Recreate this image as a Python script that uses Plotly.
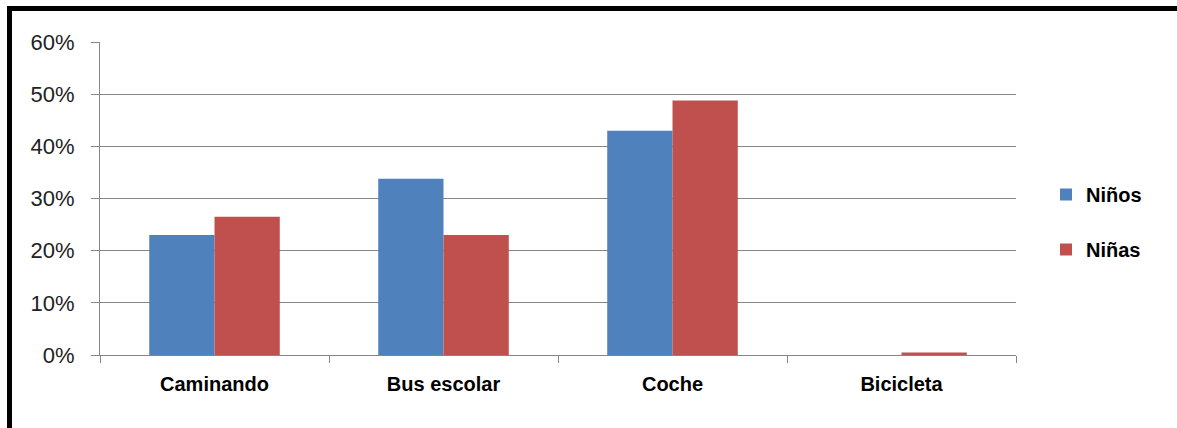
import plotly.graph_objects as go

categories = ["Caminando", "Bus escolar", "Coche", "Bicicleta"]
ninos = [0.23, 0.338, 0.43, 0.0]
ninas = [0.265, 0.23, 0.488, 0.005]
series_names = ["Niños", "Niñas"]
colors = ["#4F81BD", "#C0504D"]
y_ticks = [0, 0.1, 0.2, 0.3, 0.4, 0.5, 0.6]
y_labels = ["0%", "10%", "20%", "30%", "40%", "50%", "60%"]

W, H = 1177, 428
ML, MR, MT, MB = 100, 161, 42, 73
PW = W - ML - MR
PH = H - MT - MB

fig = go.Figure()
for name, vals, col, grp in [(series_names[0], ninos, colors[0], "a"), (series_names[1], ninas, colors[1], "b")]:
    fig.add_trace(go.Bar(x=categories, y=vals, name=name, marker=dict(color=col, line=dict(width=0)),
                         legendgroup=grp))

def px_to_paper_x(px):
    return (px - ML) / PW

def px_to_paper_y(py):
    return (H - MB - py) / PH

shapes = [
    dict(type="line", xref="paper", yref="paper", x0=px_to_paper_x(9.5), x1=px_to_paper_x(9.5),
         y0=px_to_paper_y(6), y1=px_to_paper_y(430), line=dict(color="black", width=5)),
    dict(type="line", xref="paper", yref="paper", x0=px_to_paper_x(7), x1=px_to_paper_x(1177),
         y0=px_to_paper_y(8.5), y1=px_to_paper_y(8.5), line=dict(color="black", width=5)),
]

fig.update_layout(
    width=W, height=H,
    margin=dict(l=ML, r=MR, t=MT, b=MB, autoexpand=False),
    paper_bgcolor="white", plot_bgcolor="white",
    barmode="group", bargap=0.43, bargroupgap=0,
    font=dict(family="Liberation Sans", color="#000"),
    showlegend=True,
    legend=dict(x=px_to_paper_x(1046), y=px_to_paper_y(222), xanchor="left", yanchor="middle",
                font=dict(size=20, family="Liberation Sans", color="#000", weight="bold"),
                traceorder="grouped", tracegroupgap=26, bgcolor="rgba(0,0,0,0)"),
    shapes=shapes,
    xaxis=dict(
        type="category", showline=True, linecolor="#868686", linewidth=1,
        ticks="outside", tickson="boundaries", ticklen=7, tickcolor="#868686",
        showgrid=False, tickfont=dict(size=20, family="Liberation Sans", color="#000", weight="bold"),
        ticklabelstandoff=11,
    ),
    yaxis=dict(
        range=[0, 0.6], tickvals=y_ticks, ticktext=y_labels,
        showline=True, linecolor="#868686", linewidth=1,
        ticks="outside", ticklen=8, tickcolor="#868686",
        showgrid=True, gridcolor="#868686", gridwidth=1, zeroline=False,
        tickfont=dict(size=22, family="Liberation Sans", color="#222"),
        ticklabelstandoff=12,
    ),
)

fig.write_html("out.html", config={"displayModeBar": False},
               post_script="document.body.style.margin='0';document.body.style.overflow='hidden';")
